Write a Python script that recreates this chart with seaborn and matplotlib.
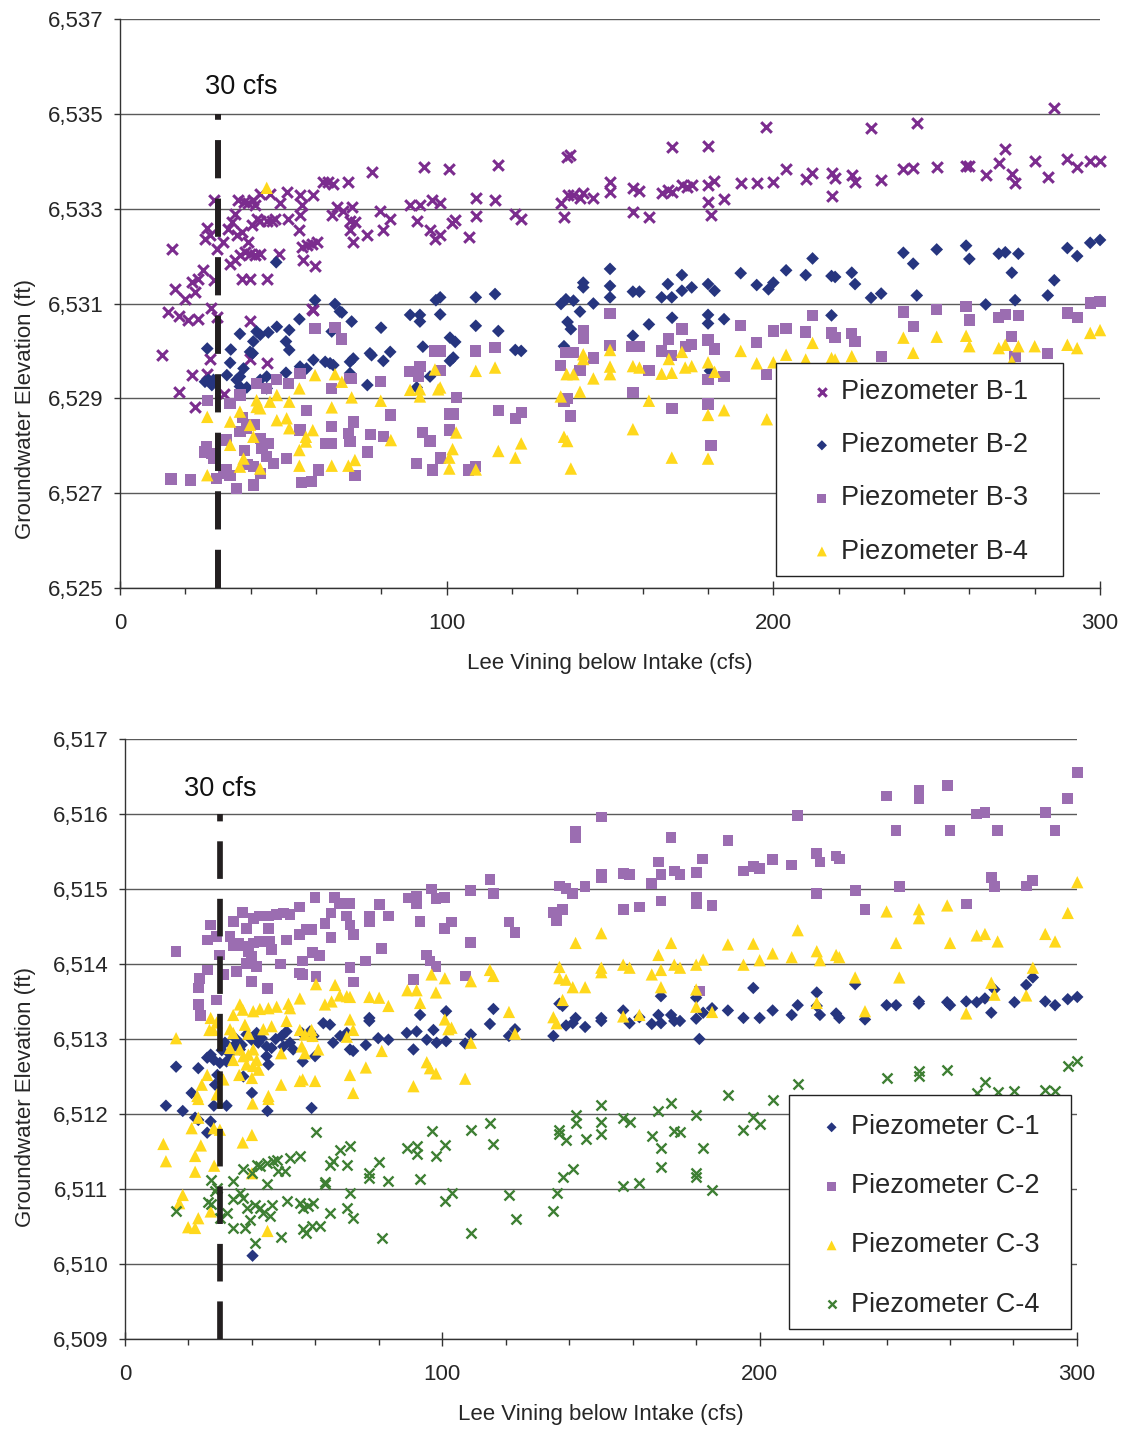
import matplotlib
matplotlib.use("Agg")
import matplotlib.pyplot as plt
import pandas as pd
import seaborn as sns
from matplotlib.patches import Rectangle
from matplotlib.ticker import MultipleLocator, FixedLocator, FuncFormatter

# ---------------- data (flow cfs, groundwater elevation ft) ----------------
b1 = [(14.8,6530.82),(17.9,6530.74),(20.9,6530.65),(24,6530.67),(15.8,6532.14),
      (16.8,6531.3),(19.9,6531.1),(21.9,6531.45),(23,6531.24),(24,6531.52),(25.5,6531.7),
      (27.8,6530.9),(28.8,6531.49),(29.8,6530.71),(28.8,6533.18),(26.7,6532.6),(26,6532.37),
      (27.6,6532.44),(29.8,6532.16),(31.6,6532.3),(33.2,6532.58),(34.2,6532.72),(35.2,6532.89),
      (36.2,6533.18),(37.8,6533.14),(39.3,6533.11),(40.8,6533.18),(41.3,6533.07),(33.7,6531.84),
      (35.2,6531.91),(36.7,6532.02),(38.3,6532.09),(39.8,6532.05),(41.3,6532.02),(42.9,6532.05),
      (37.2,6531.52),(39.8,6531.52),(35.7,6532.44),(37.2,6532.51),(39.3,6532.3),(40.3,6532.65),
      (41.8,6532.79),(42.9,6532.75),(44.9,6532.75),(46.4,6532.75),(47.4,6532.79),(49,6533.11),
      (51,6533.35),(51.5,6532.79),(55.1,6533.28),(55.6,6533.07),(55.1,6532.86),(54.8,6532.54),
      (56.1,6531.91),(55.6,6532.19),(57.1,6532.23),(58.7,6532.26),(60.2,6532.3),(59.7,6531.8),
      (59.2,6533.28),(62.2,6533.56),(63.8,6533.56),(65.3,6533.53),(69.9,6533.56),(64.8,6532.86),
      (66.3,6533.04),(68.4,6532.96),(70.9,6533.04),(70.4,6532.75),(70.4,6532.54),(71.4,6532.3),
      (71.9,6532.72),(75.5,6532.44),(77,6533.77),(79.6,6532.96),(80.6,6532.54),(82.7,6532.79),
      (88.8,6533.07),(91.8,6533.07),(90.8,6532.75),(92.9,6533.88),(95.4,6533.18),(94.9,6532.54),
      (96.4,6532.37),(44.9,6531.52),(48.8,6532.04),(58.7,6530.89),(39.8,6530.64),(42.9,6533.32),
      (45.9,6533.3),(12.8,6529.91),(27.6,6529.84),(21.9,6529.49),(17.9,6529.14),(23,6528.81),
      (26.7,6529.51),(31.8,6529.09),(39.8,6529.84),(44.9,6529.74),(59,6530.86),
      (100.7,6533.84),(98,6533.12),(98,6532.44),(101.6,6532.7),(102.5,6532.76),(106.8,6532.4),
      (109,6533.22),(109,6532.84),(115.7,6533.92),(114.8,6533.18),(120.9,6532.89),(122.7,6532.78),
      (135,6533.12),(136,6532.82),(136.8,6534.09),(137.7,6534.13),(137.1,6533.29),(138.7,6533.29),
      (140.8,6533.22),(141.7,6533.33),(144.8,6533.22),(150,6533.56),(150,6533.35),(157,6533.43),
      (158.9,6533.37),(157,6532.93),(161.9,6532.82),(165.9,6533.33),(167.7,6533.39),(169,6533.35),
      (169,6534.3),(172,6533.5),(173.5,6533.46),(175,6533.5),(180,6534.32),(180,6533.5),
      (180,6533.14),(181.8,6533.58),(180.9,6532.86),(184.9,6533.2),(190,6533.54),(195,6533.54),
      (197.7,6534.72),(200,6533.56),(203.9,6533.84),(210,6533.62),(211.8,6533.75),(218,6533.75),
      (219,6533.65),(218,6533.27),(224,6533.7),(225,6533.56),(229.9,6534.7),(233,6533.6),
      (239.7,6533.84),(242.7,6533.86),(244,6534.8),(250,6533.88),(259,6533.9),(260,6533.9),
      (265,6533.7),(269,6533.96),(271,6534.26),(273,6533.73),(274,6533.54),(280,6534.0),
      (284,6533.67),(286,6535.12),(290,6534.05),(293,6533.88),(297,6534.0),(300,6534.0)]

b2 = [(26.7,6530.05),(33.9,6530.03),(36.7,6530.36),(41.8,6530.41),(42.9,6530.34),(40.8,6530.2),
      (45.4,6530.39),(48,6530.51),(51.8,6530.44),(50.8,6530.2),(51.8,6530.02),(54.9,6530.67),
      (59.7,6531.07),(65.8,6530.99),(67.9,6530.81),(70.9,6530.62),(64.8,6530.41),(79.9,6530.49),
      (88.8,6530.76),(91.8,6530.76),(91.8,6530.62),(96.7,6531.07),(33.7,6529.75),(37.8,6529.63),
      (32.7,6529.49),(26,6529.35),(28.1,6529.28),(27,6529.39),(28.6,6529.39),(35.7,6529.39),
      (36.7,6529.25),(38.8,6529.23),(36.7,6529.46),(39.8,6529.98),(40.6,6529.95),(42.9,6529.39),
      (44.9,6529.46),(44.9,6529.21),(50.8,6529.54),(55.1,6529.67),(57.1,6529.63),(59.2,6529.81),
      (62.8,6529.77),(64.3,6529.74),(65.3,6529.7),(70.4,6529.53),(71.4,6529.84),(70.4,6529.77),
      (76.5,6529.95),(77,6529.91),(80.6,6529.79),(82.7,6529.98),(75.7,6529.28),(92.7,6530.09),
      (94.9,6529.46),(90.8,6529.23),(47.8,6531.87),(67.3,6530.83),
      (108.9,6531.13),(114.8,6531.2),(98,6530.77),(108.9,6530.53),(115.8,6530.42),(101,6530.28),
      (102.6,6530.19),(101,6529.79),(102,6529.86),(121,6530.02),(122.8,6530),(98,6531.13),
      (135,6530.99),(136.5,6531.09),(138.8,6531.06),(141.8,6531.44),(141.8,6531.34),(144.9,6531),
      (140.8,6530.83),(137,6530.61),(138,6530.46),(135.9,6530.1),(150,6531.73),(150,6531.37),
      (150,6531.13),(157,6531.25),(159,6531.25),(157,6530.32),(161.9,6530.56),(165.8,6531.13),
      (168.9,6531.13),(167.7,6531.41),(169,6530.7),(172,6531.27),(172,6531.6),(175,6531.34),
      (180,6531.41),(182,6531.27),(180,6530.76),(180,6530.58),(184.9,6530.67),(180.6,6529.58),
      (190,6531.64),(194.9,6531.39),(198.5,6531.3),(200,6531.44),(203.9,6531.7),(209.9,6531.6),
      (212,6531.95),(217.8,6531.58),(218.9,6531.56),(217.8,6530.75),(224,6531.65),(225,6531.41),
      (229.9,6531.12),(233,6531.21),(239.8,6532.07),(242.8,6531.84),(243.9,6531.17),(250,6532.14),
      (259,6532.22),(260,6531.94),(265,6530.98),(269,6532.05),(271,6532.08),(275,6532.05),
      (273,6531.65),(274,6531.07),(284,6531.17),(286,6531.49),(290,6532.17),(293,6532.0),
      (297,6532.28),(300,6532.34)]

b3 = [(15.6,6527.3),(21.6,6527.28),(26.7,6528.96),(26.5,6527.98),(26,6527.87),(28.1,6527.84),
      (28.6,6527.73),(29.6,6527.31),(31.6,6527.42),(32.7,6527.49),(33.7,6527.38),(35.7,6527.1),
      (40.8,6527.17),(33.7,6528.89),(36.7,6529.07),(32.7,6528.12),(36.7,6528.3),(38.8,6528.37),
      (41.8,6529.32),(44.9,6529.21),(48,6529.4),(51.5,6529.32),(55.1,6529.53),(42.9,6528.16),
      (44.9,6527.77),(46.9,6527.63),(42.9,6527.42),(40.8,6527.56),(51,6527.73),(55.6,6527.22),
      (58.7,6527.24),(60.7,6527.49),(55.1,6528.33),(57.1,6528.75),(59.7,6530.47),(65.8,6530.5),
      (67.9,6530.25),(64.8,6529.21),(64.8,6528.4),(62.8,6528.05),(64.8,6528.05),(70.4,6529.42),
      (70.9,6529.42),(71.4,6528.5),(69.9,6528.26),(70.4,6528.09),(71.9,6527.38),(76.7,6528.24),
      (75.7,6527.87),(79.8,6529.35),(82.7,6528.65),(80.6,6528.19),(88.8,6529.56),(91.8,6529.67),
      (91.3,6529.46),(92.7,6528.28),(94.9,6528.1),(90.8,6527.63),(95.7,6527.49),(96.4,6530.0),
      (38,6527.9),(39,6527.6),(43.5,6527.95),(45.5,6528.05),(37.5,6528.6),(41,6528.45),
      (98,6530),(98,6529.58),(102.9,6529.02),(101,6528.67),(102,6528.67),(100.9,6528.33),
      (98,6527.74),(106.6,6527.49),(108.9,6527.56),(108.9,6530),(114.8,6530.07),(115.8,6528.75),
      (121,6528.57),(122.8,6528.7),(134.9,6529.7),(136.5,6529.97),(138.8,6529.97),(135.9,6528.93),
      (136.9,6529),(138,6528.63),(141.8,6530.42),(141.8,6530.26),(140.8,6529.59),(144.9,6529.85),
      (150,6530.79),(150,6530.12),(156.6,6530.1),(159,6530.1),(157,6529.12),(161.9,6529.59),
      (165.8,6530),(168.9,6529.9),(168,6530.25),(172,6530.46),(173,6530.1),(175,6530.13),
      (169,6528.79),(180,6530.23),(182,6530.04),(180,6529.4),(180,6528.88),(180.9,6528),
      (184.9,6529.46),(190,6530.54),(194.9,6530.18),(198,6529.51),(200,6530.42),(203.9,6530.47),
      (209.9,6530.4),(212,6530.75),(217.8,6530.38),(218.9,6530.28),(224,6530.37),(225,6530.2),
      (233,6529.89),(239.8,6530.82),(242.8,6530.52),(250,6530.87),(259,6530.94),(260,6530.65),
      (269,6530.7),(271,6530.77),(275,6530.75),(273,6530.31),(274,6529.89),(284,6529.95),
      (290,6530.8),(293,6530.7),(297,6531.01),(300,6531.05)]

b4 = [(26.7,6528.61),(26.7,6527.38),(33.7,6528.51),(36.7,6528.72),(39.8,6528.44),(33.7,6528.02),
      (40.8,6528.19),(41.8,6528.96),(41.8,6528.82),(42.9,6528.79),(45.9,6528.93),(48,6529.07),
      (51.8,6528.93),(48,6528.54),(51,6528.58),(51.8,6528.37),(37.8,6527.73),(36.7,6527.56),
      (42.9,6527.52),(54.9,6529.21),(59.7,6529.49),(65.8,6529.51),(67.9,6529.35),(64.8,6528.81),
      (70.9,6529.02),(59,6528.33),(56.9,6528.19),(56.9,6528.09),(54.9,6527.91),(54.9,6527.58),
      (64.8,6527.58),(69.9,6527.58),(71.9,6527.7),(79.8,6528.95),(82.9,6528.12),(88.8,6529.18),
      (91.8,6529.19),(91.8,6529.04),(96.4,6529.61),(97.4,6529.19),(44.9,6533.44),
      (98,6529.23),(102.9,6528.28),(101.8,6527.93),(100.8,6527.75),(100.8,6527.52),(108.9,6529.58),
      (114.8,6529.65),(108.9,6527.5),(115.8,6527.89),(121,6527.75),(122.8,6528.05),(134.9,6529.04),
      (135.9,6528.19),(136.9,6528.1),(138,6527.52),(140.8,6529.14),(141.8,6529.93),(141.8,6529.83),
      (138.8,6529.51),(136.7,6529.51),(144.9,6529.42),(150,6530.02),(150,6529.67),(150,6529.51),
      (157,6529.68),(159,6529.65),(157,6528.35),(161.9,6528.95),(165.8,6529.52),(168.9,6529.54),
      (168,6529.83),(172,6529.98),(173,6529.65),(175,6529.68),(180,6529.76),(182,6529.56),
      (180,6528.65),(184.9,6528.75),(168.9,6527.75),(180,6527.73),(190,6530),(194.9,6529.74),
      (200,6529.76),(198,6528.56),(203.9,6529.92),(209.9,6529.82),(212,6530.17),(217.8,6529.85),
      (218.9,6529.82),(224,6529.89),(239.8,6530.28),(242.8,6529.96),(250,6530.3),(259,6530.32),
      (260,6530.1),(269,6530.06),(271,6530.13),(275,6530.1),(273,6529.78),(280,6530.1),
      (290,6530.13),(293,6530.06),(297,6530.38),(300,6530.44)]

c1 = [(16.1,6512.63),(12.9,6512.11),(18.2,6512.04),(23.1,6512.61),(21,6512.28),(22.1,6511.95),
      (23.1,6511.92),(25.9,6511.75),(27,6511.9),(28,6512.11),(28.4,6512.39),(29.1,6512.52),
      (25.9,6512.75),(27,6512.79),(28,6512.72),(29.9,6512.68),(32,6512.7),(32,6512.11),
      (34.1,6512.9),(36.2,6512.86),(36.8,6512.92),(37.3,6512.5),(38.3,6513.06),(39.9,6512.99),
      (41.5,6513.08),(43.1,6513.01),(44.6,6512.9),(46.2,6512.88),(44.6,6512.77),(45.2,6512.66),
      (40,6512.28),(44.9,6512.04),(49.4,6513.04),(50.9,6513.1),(52,6512.95),(53,6512.86),
      (49.9,6512.9),(55.7,6513.08),(58.3,6513.1),(59.9,6512.77),(56,6512.7),(59.4,6513.04),
      (62.5,6513.21),(64.6,6513.19),(65.6,6512.95),(67.8,6513.04),(70.9,6512.86),(71.9,6512.84),
      (69.9,6513.08),(77,6513.28),(77,6513.24),(75.9,6512.92),(79.8,6513.01),(83,6512.99),
      (58.8,6512.08),(40.2,6510.11),(88.8,6513.08),(91.9,6513.1),(90.9,6512.86),(93,6513.32),
      (95.1,6512.99),(97.2,6513.12),(98.2,6512.95),(101.2,6512.97),(101.2,6513.37),
      (30.5,6512.85),(31.5,6512.95),(33,6512.8),(35,6513.0),(42,6512.95),(47.5,6513.0),
      (107.2,6512.94),(109,6513.06),(115,6513.2),(116.1,6513.4),(121,6513.04),(122.9,6513.13),
      (135,6513.04),(136.9,6513.47),(137.9,6513.44),(139,6513.18),(141.1,6513.21),(142,6513.28),
      (145,6513.16),(150.1,6513.28),(150.1,6513.24),(157,6513.38),(159,6513.21),(162.1,6513.29),
      (166,6513.2),(168.1,6513.32),(168.9,6513.21),(168.9,6513.57),(172.1,6513.32),(173.1,6513.24),
      (174.9,6513.24),(180,6513.55),(180,6513.27),(181,6513.0),(182.2,6513.35),(185,6513.41),
      (190,6513.38),(194.9,6513.28),(198,6513.68),(200,6513.28),(204.1,6513.38),(210.1,6513.32),
      (212,6513.45),(218,6513.62),(218,6513.44),(219,6513.32),(224.1,6513.34),(225.1,6513.28),
      (230.1,6513.73),(233.2,6513.26),(240,6513.45),(243,6513.45),(250.2,6513.5),(250.2,6513.47),
      (259.1,6513.49),(260,6513.45),(265.1,6513.5),(268.4,6513.49),(271,6513.54),(273,6513.35),
      (274,6513.66),(280.3,6513.49),(284,6513.72),(286.1,6513.82),(290,6513.5),(293.1,6513.45),
      (297.1,6513.53),(300.1,6513.56)]

c2 = [(16.1,6514.17),(27,6514.52),(25.9,6514.32),(28.9,6514.37),(23.1,6513.68),(23.6,6513.81),
      (25.9,6513.92),(23.1,6513.46),(23.9,6513.31),(28.9,6513.52),(29.9,6514.12),(31,6513.86),
      (34.1,6514.57),(37.1,6514.69),(33.1,6514.37),(34.1,6514.24),(35.7,6514.28),(37.3,6514.24),
      (38.9,6514.17),(40.4,6514.28),(39.9,6514.1),(41.5,6513.97),(38.3,6514.01),(35.2,6513.9),
      (39.9,6513.77),(44.9,6513.67),(38.3,6514.47),(40.4,6514.61),(42.5,6514.64),(45.2,6514.64),
      (47.8,6514.66),(49.9,6514.68),(52,6514.66),(54.9,6514.76),(45.2,6514.47),(42.5,6514.3),
      (45.7,6514.3),(46.2,6514.19),(49.1,6514.0),(50.9,6514.32),(55.1,6514.39),(57.2,6514.46),
      (58.8,6514.46),(56,6514.04),(55.1,6513.88),(56,6513.86),(59.1,6514.15),(61.2,6514.11),
      (60.2,6513.83),(59.9,6514.89),(64.9,6514.35),(63,6514.54),(64.9,6514.68),(66,6514.89),
      (67.7,6514.81),(70.9,6514.81),(69.9,6514.64),(70.9,6514.52),(71.9,6514.39),(70.9,6513.95),
      (71.9,6513.76),(75.9,6514.04),(77,6514.64),(77,6514.56),(80.1,6514.79),(83,6514.64),
      (80.9,6514.21),(89.3,6514.88),(91.9,6514.9),(91.9,6514.81),(93,6514.57),(90.9,6513.79),
      (95.1,6514.12),(96.1,6514.04),(98,6513.97),(96.6,6515.0),(98,6514.87),(100.8,6514.89),
      (100.8,6514.47),(109,6514.98),(115,6515.13),(116.1,6514.94),(102.9,6514.56),(109,6514.29),
      (121,6514.56),(122.9,6514.42),(107.2,6513.84),(135,6514.69),(136,6514.58),(137.9,6514.73),
      (136.9,6515.04),(139,6515.01),(141.1,6514.94),(142,6515.77),(142,6515.68),(145,6515.03),
      (150.1,6515.96),(150.1,6515.19),(150.1,6515.15),(157,6515.21),(159,6515.19),(157,6514.73),
      (162.1,6514.76),(166,6515.07),(168.1,6515.36),(168.9,6515.19),(168.9,6514.84),(172.1,6515.69),
      (173.1,6515.24),(174.9,6515.19),(180,6515.22),(180,6514.89),(180,6514.8),(182,6515.4),
      (185,6514.78),(181,6513.64),(190,6515.65),(194.9,6515.24),(198,6515.3),(200,6515.27),
      (204.1,6515.39),(210.1,6515.32),(212,6515.98),(218,6515.47),(219,6515.36),(218,6514.94),
      (224.1,6515.44),(225.1,6515.4),(230.1,6514.98),(233.2,6514.73),(240,6516.24),(243,6515.78),
      (244,6515.03),(250.2,6516.32),(250.2,6516.2),(259.1,6516.38),(260,6515.78),(265.1,6514.8),
      (268.4,6516.0),(271,6516.02),(275,6515.78),(273,6515.15),(274,6515.03),(284,6515.04),
      (286.1,6515.11),(290,6516.02),(293.1,6515.78),(297.1,6516.21),(300.1,6516.55)]

c3 = [(16.1,6513.01),(27,6513.28),(28.9,6513.22),(26.6,6513.12),(27.8,6513.12),(34.1,6513.32),
      (36.2,6513.46),(37.1,6513.39),(33.1,6513.13),(34.1,6513.08),(37.8,6513.19),(38.9,6513.07),
      (40.4,6513.37),(42.5,6513.4),(45.2,6513.41),(47.8,6513.43),(51.5,6513.47),(52,6513.41),
      (55.1,6513.54),(43.6,6513.13),(46.2,6513.17),(50.9,6513.24),(55.1,6513.12),(56.7,6513.06),
      (58.8,6513.12),(59.1,6513.04),(60.2,6513.73),(63,6513.46),(65.1,6513.5),(66.2,6513.72),
      (67.7,6513.58),(69.9,6513.57),(70.9,6513.56),(70.9,6513.26),(71.9,6513.12),(69.9,6513.03),
      (77,6513.56),(80.1,6513.55),(83,6513.44),(89,6513.65),(91.9,6513.65),(93,6513.48),
      (98,6513.62),(96.6,6513.86),(100.8,6513.81),(100.8,6513.26),
      (25.9,6512.52),(24.2,6512.39),(22.8,6512.24),(23.1,6512.2),(28.9,6512.26),(31,6512.46),
      (23.1,6511.95),(21,6511.81),(28,6511.81),(29.9,6511.79),(12.1,6511.6),(12.9,6511.37),
      (22.1,6511.44),(23.9,6511.58),(22.1,6511.23),(28.1,6511.31),(18.2,6510.92),(17.1,6510.81),
      (19.9,6510.49),(22.1,6510.48),(23.1,6510.61),(27,6510.7),(37.1,6511.62),(40,6511.72),
      (40,6511.21),(44.9,6510.44),(33.1,6512.88),(34.1,6512.72),(36.2,6512.86),(37.3,6512.77),
      (38.9,6512.79),(40.4,6512.86),(41.5,6512.72),(40.4,6512.64),(38.3,6512.66),(36,6512.52),
      (40,6512.48),(42.1,6512.59),(45.2,6512.24),(45.2,6512.2),(40.2,6512.14),(49.2,6512.39),
      (55.1,6512.44),(56,6512.46),(59.9,6512.44),(49.2,6512.81),(55.7,6512.9),(56.7,6512.81),
      (60.9,6512.86),(70.9,6512.52),(71.9,6512.28),(75.9,6512.62),(80.9,6512.84),(90.9,6512.37),
      (95.1,6512.69),(96.1,6512.61),(98,6512.54),
      (109,6513.77),(115,6513.92),(116.1,6513.84),(121,6513.36),(122.9,6513.07),(101.9,6513.13),
      (102.9,6513.15),(109,6512.95),(107.2,6512.47),(136.9,6513.96),(136.9,6513.81),(139,6513.79),
      (141.1,6513.69),(145,6513.69),(142,6514.28),(137.9,6513.52),(135,6513.29),(136,6513.21),
      (150.1,6514.41),(150.1,6513.95),(150.1,6513.89),(157,6513.99),(159,6513.95),(157,6513.3),
      (162.1,6513.32),(166,6513.86),(168.1,6514.12),(168.9,6513.92),(168.9,6513.69),(172.1,6514.28),
      (173.1,6513.99),(174.9,6513.95),(180,6513.99),(182.2,6514.06),(180,6513.66),(180,6513.43),
      (185,6513.36),(190,6514.26),(194.9,6513.99),(198,6514.27),(200,6514.05),(204.1,6514.14),
      (210.1,6514.09),(212,6514.45),(218,6514.17),(219,6514.05),(218,6513.48),(224.1,6514.12),
      (225.1,6514.09),(230.1,6513.82),(233.2,6513.37),(240,6514.7),(243,6514.28),(244,6513.82),
      (250.2,6514.73),(250.2,6514.61),(259.1,6514.78),(260,6514.28),(265.1,6513.34),(268.4,6514.38),
      (271,6514.4),(275,6514.3),(273,6513.75),(274,6513.59),(284,6513.58),(286.1,6513.95),
      (290,6514.4),(293.1,6514.3),(297.1,6514.68),(300.1,6515.09)]

c4 = [(16.1,6510.71),(27,6511.12),(28.9,6511.01),(28.4,6510.97),(26.3,6510.82),(27,6510.8),
      (29.9,6510.61),(32,6510.68),(34.1,6511.1),(34.1,6510.86),(34.1,6510.48),(36.2,6510.95),
      (37.3,6510.88),(38.3,6510.75),(39.4,6510.59),(37.8,6510.48),(41,6510.28),(39.9,6511.21),
      (41.5,6511.32),(42.5,6511.3),(44.6,6511.35),(46.7,6511.37),(47.8,6511.39),(50.4,6511.24),
      (52,6511.41),(55.1,6511.44),(48.3,6511.24),(37.1,6511.27),(44.6,6511.07),(41,6510.79),
      (42.5,6510.75),(43.6,6510.68),(45.7,6510.64),(46.2,6510.79),(50.9,6510.84),(55.1,6510.81),
      (56.2,6510.75),(57.8,6510.77),(59.4,6510.81),(57.2,6510.41),(56.2,6510.46),(58.8,6510.5),
      (61.4,6510.5),(49.2,6510.36),(60.2,6511.76),(63,6511.09),(63,6511.06),(64.6,6511.32),
      (65.6,6511.37),(67.8,6511.52),(70.9,6511.57),(69.9,6511.32),(64.6,6510.68),(70.9,6510.95),
      (69.9,6510.75),(71.9,6510.61),(77,6511.21),(77,6511.15),(80.1,6511.36),(83,6511.1),
      (80.9,6510.34),(88.8,6511.55),(91.9,6511.57),(91.9,6511.46),(93,6511.13),(96.6,6511.77),
      (98,6511.44),(100.8,6511.59),(100.8,6510.84),(102.9,6510.94),(109,6511.79),(109,6510.41),
      (115,6511.88),(116.1,6511.6),(121,6510.92),(123.1,6510.6),(135,6510.71),(136,6510.94),
      (136.9,6511.79),(136.9,6511.73),(139,6511.65),(137.9,6511.16),(141.1,6511.27),(142.1,6511.99),
      (142.1,6511.88),(145.2,6511.67),(150.1,6512.12),(150.1,6511.89),(150.1,6511.73),(157,6511.95),
      (159,6511.89),(157,6511.04),(162.1,6511.08),(166.2,6511.7),(168.1,6512.04),(168.9,6511.54),
      (168.9,6511.29),(172.1,6512.15),(173.1,6511.77),(174.9,6511.76),(180,6511.98),(180,6511.21),
      (180,6511.16),(182.1,6511.54),(185,6510.98),(190,6512.25),(194.9,6511.79),(198,6511.96),
      (200,6511.86),(204.1,6512.19),(212,6512.4),(240,6512.48),(250.2,6512.57),(250.2,6512.5),
      (259.1,6512.59),(271,6512.42),(275,6512.29),(280.3,6512.3),(268.4,6512.28),(290,6512.32),
      (293.1,6512.3),(297.1,6512.64),(300.1,6512.7)]

ref_flow = 30
ref_label = "30 cfs"
top_labels = ["Piezometer B-1", "Piezometer B-2", "Piezometer B-3", "Piezometer B-4"]
bot_labels = ["Piezometer C-1", "Piezometer C-2", "Piezometer C-3", "Piezometer C-4"]
top_yticks = [6525, 6527, 6529, 6531, 6533, 6535, 6537]
bot_yticks = [6509, 6510, 6511, 6512, 6513, 6514, 6515, 6516, 6517]
xlabel = "Lee Vining below Intake (cfs)"
ylabel = "Groundwater Elevation (ft)"

# ---------------- style ----------------
sns.set_style("white")
plt.rcParams['font.family'] = ['Liberation Sans', 'DejaVu Sans']

PURPLE = "#7B2C8E"; NAVY = "#26357F"; LILAC = "#9B6DB1"; YELLOW = "#FFD81C"; GREEN = "#3E7F33"
DARK = "#231F20"

fig = plt.figure(figsize=(11.25, 14.29), dpi=100)
ax1 = fig.add_axes([0.1067, 0.5885, 0.8711, 0.3982])
ax2 = fig.add_axes([0.1111, 0.0630, 0.8462, 0.4199])


def to_df(pairs):
    return pd.DataFrame(pairs, columns=["flow", "elev"])


def draw(ax, data, label, marker, color, s, lw):
    d = to_df(data)
    if marker == "x":
        sns.scatterplot(data=d, x="flow", y="elev", ax=ax, marker=marker, color=color,
                        s=s, linewidth=lw, label=label, clip_on=False, zorder=3)
    else:
        sns.scatterplot(data=d, x="flow", y="elev", ax=ax, marker=marker, color=color,
                        s=s, linewidth=0, edgecolor="none", label=label, clip_on=False, zorder=3)


def style(ax, ylo, yhi, yticks, ylab_pos):
    ax.set_xlim(0, 300)
    ax.set_ylim(ylo, yhi)
    ax.xaxis.set_major_locator(MultipleLocator(100))
    ax.xaxis.set_minor_locator(MultipleLocator(20))
    ax.yaxis.set_major_locator(FixedLocator(yticks))
    ax.yaxis.set_major_formatter(FuncFormatter(lambda v, p: f"{v:,.0f}"))
    ax.grid(axis="y", color="#5a5a5a", lw=1.0)
    ax.grid(axis="x", visible=False)
    ax.set_axisbelow(True)
    for sp in ["top", "right"]:
        ax.spines[sp].set_visible(False)
    for sp in ["left", "bottom"]:
        ax.spines[sp].set_color("#333333")
        ax.spines[sp].set_linewidth(1.0)
    ax.tick_params(axis="x", which="major", direction="inout", length=10, width=1,
                   color="#333333", labelsize=16, pad=13, bottom=True)
    ax.tick_params(axis="x", which="minor", direction="out", length=4, width=1,
                   color="#333333", bottom=True)
    ax.tick_params(axis="y", which="major", direction="out", length=4, width=1,
                   color="#333333", labelsize=16, pad=8, left=True)
    ax.set_xlabel(xlabel, fontsize=16, labelpad=14)
    ax.set_ylabel(ylabel, fontsize=16)
    ax.yaxis.set_label_coords(*ylab_pos)


# ---------------- top panel ----------------
draw(ax1, b1, top_labels[0], "x", PURPLE, 58, 2.2)
draw(ax1, b2, top_labels[1], "D", NAVY, 42, 0)
draw(ax1, b3, top_labels[2], "s", LILAC, 66, 0)
draw(ax1, b4, top_labels[3], "^", YELLOW, 80, 0)
style(ax1, 6525, 6537, top_yticks, (-0.086, 0.315))
ax1.plot([ref_flow, ref_flow], [6525, 6535], color=DARK, lw=4.3,
         linestyle=(0, (6.4, 3.4)), solid_capstyle="butt", dash_capstyle="butt", zorder=5,
         clip_on=False)
ax1.text(ref_flow + 7, 6535.57, ref_label, ha="center", va="center", fontsize=19.5, color="#111111")

ax1.add_patch(Rectangle((0.6694, 0.0211), 0.2928, 0.3744, transform=ax1.transAxes,
                        facecolor="white", edgecolor="#222222", lw=1.0, zorder=6))
leg1 = ax1.legend(loc="center", bbox_to_anchor=(0.8158, 0.204), frameon=False,
                  fontsize=19.5, markerscale=0.8, handlelength=0.8, handletextpad=0.3,
                  labelspacing=1.0, borderpad=0)
leg1.set_zorder(7)

# ---------------- bottom panel ----------------
draw(ax2, c1, bot_labels[0], "D", NAVY, 40, 0)
draw(ax2, c2, bot_labels[1], "s", LILAC, 60, 0)
draw(ax2, c3, bot_labels[2], "^", YELLOW, 78, 0)
draw(ax2, c4, bot_labels[3], "x", GREEN, 52, 1.7)
style(ax2, 6509, 6517, bot_yticks, (-0.094, 0.403))
ax2.plot([ref_flow, ref_flow], [6509, 6516], color=DARK, lw=4.1,
         linestyle=(0, (6.6, 3.5)), solid_capstyle="butt", dash_capstyle="butt", zorder=5,
         clip_on=False)
ax2.text(ref_flow, 6516.33, ref_label, ha="center", va="center", fontsize=19.5, color="#111111")

ax2.add_patch(Rectangle((0.6975, 0.0167), 0.2962, 0.39, transform=ax2.transAxes,
                        facecolor="white", edgecolor="#222222", lw=1.0, zorder=6))
leg2 = ax2.legend(loc="center", bbox_to_anchor=(0.8456, 0.205), frameon=False,
                  fontsize=19.5, markerscale=0.8, handlelength=0.8, handletextpad=0.3,
                  labelspacing=1.22, borderpad=0)
leg2.set_zorder(7)

fig.savefig("out.png", dpi=100, facecolor="white")
